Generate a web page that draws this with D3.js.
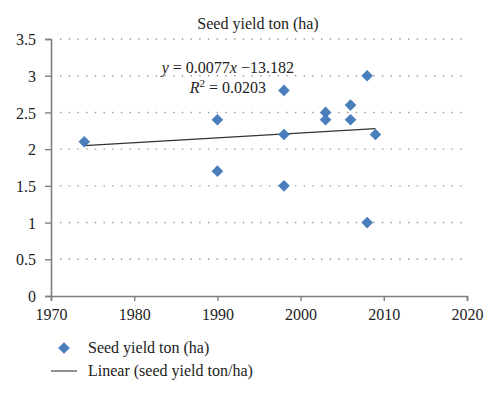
<!DOCTYPE html>
<html>
<head>
<meta charset="utf-8">
<script src="https://cdn.jsdelivr.net/npm/d3@7"></script>
<style>
  body { margin: 0; background: #fff; }
  text { font-family: "Liberation Serif", "DejaVu Serif", serif; fill: #222; }
</style>
</head>
<body>
<svg id="chart"></svg>
<script>
// data
const years  = [1974, 1990, 1990, 1998, 1998, 1998, 2003, 2003, 2006, 2006, 2008, 2008, 2009]
const yields = [2.1,  2.4,  1.7,  2.8,  2.2,  1.5,  2.5,  2.4,  2.6,  2.4,  3.0,  1.0,  2.2]
const xTicks = [1970, 1980, 1990, 2000, 2010, 2020]
const yTicks = [0, 0.5, 1, 1.5, 2, 2.5, 3, 3.5]
const title = "Seed yield ton (ha)"
const eqLine1 = ["y", " = 0.0077", "x", " \u221213.182"]
const eqLine2 = "0.0203"
const legendLabels = ["Seed yield ton (ha)", "Linear (seed yield ton/ha)"]

const svg = d3.select("svg#chart")
              .attr("width", 500)
              .attr("height", 397)

const x = d3.scaleLinear().domain([1970, 2020]).range([51, 467])
const y = d3.scaleLinear().domain([0, 3.5]).range([296, 39])

const axisColor = "#7f7f7f"
const blue = "#4a7ebb"
const fs = 16

//gridlines
svg.append("g")
   .selectAll("line")
   .data(yTicks.filter(d => d > 0))
   .join("line")
   .attr("x1", x(1970) + 9)
   .attr("x2", x(2020))
   .attr("y1", d => y(d))
   .attr("y2", d => y(d))
   .attr("stroke", "#999")
   .attr("stroke-width", 1.4)
   .attr("stroke-dasharray", "1.4,7.3")

//y axis
const yAxis = svg.append("g")
   .attr("transform", `translate(${x(1970)},0)`)
   .call(d3.axisLeft(y).tickValues(yTicks).tickSize(6).tickFormat(d3.format("")))
yAxis.select(".domain").attr("stroke", axisColor).attr("stroke-width", 1.6)
yAxis.selectAll(".tick line").attr("stroke", axisColor).attr("stroke-width", 1.4)
yAxis.selectAll(".tick text")
     .attr("x", -15)
     .attr("dy", "0.35em")
     .attr("font-size", fs)
     .attr("font-family", "Liberation Serif")
     .attr("fill", "#222")

//x axis
const xAxis = svg.append("g")
   .attr("transform", `translate(0,${y(0)})`)
   .call(d3.axisBottom(x).tickValues(xTicks).tickSize(5).tickFormat(d3.format("d")))
xAxis.select(".domain").attr("stroke", axisColor).attr("stroke-width", 1.6)
xAxis.selectAll(".tick line").attr("stroke", axisColor).attr("stroke-width", 1.4)
xAxis.selectAll(".tick text")
     .attr("y", 13)
     .attr("dy", "0.71em")
     .attr("font-size", fs)
     .attr("font-family", "Liberation Serif")
     .attr("fill", "#222")

//trend line (least squares from the points)
const mx = d3.mean(years), my = d3.mean(yields)
const slope = d3.sum(years, (d, i) => (d - mx) * (yields[i] - my)) / d3.sum(years, d => (d - mx) ** 2)
const fit = v => my + slope * (v - mx)
const [x0, x1] = d3.extent(years)
svg.append("line")
   .attr("x1", x(x0))
   .attr("y1", y(fit(x0)))
   .attr("x2", x(x1))
   .attr("y2", y(fit(x1)))
   .attr("stroke", "#333")
   .attr("stroke-width", 1.2)

//points
const diamond = d3.symbol().type(d3.symbolDiamond2).size(86)
svg.append("g")
   .selectAll("path")
   .data(years)
   .join("path")
   .attr("d", diamond)
   .attr("transform", (d, i) => `translate(${x(d)},${y(yields[i])})`)
   .attr("fill", blue)

//title
svg.append("text")
   .attr("x", 258)
   .attr("y", 29)
   .attr("text-anchor", "middle")
   .attr("font-size", fs)
   .text(title)

//equation
const eq = svg.append("text")
   .attr("x", 294)
   .attr("y", 73)
   .attr("text-anchor", "end")
   .attr("font-size", fs)
eqLine1.forEach((s, i) => {
    eq.append("tspan")
      .attr("font-style", i % 2 === 0 ? "italic" : "normal")
      .text(s)
})
const r2 = svg.append("text")
   .attr("x", 266)
   .attr("y", 93)
   .attr("text-anchor", "end")
   .attr("font-size", fs)
r2.append("tspan").attr("font-style", "italic").text("R")
r2.append("tspan").attr("font-size", 11).attr("dy", -6).text("2")
r2.append("tspan").attr("dy", 6).text(" = " + eqLine2)

//legend
svg.append("path")
   .attr("d", diamond)
   .attr("transform", "translate(64,348)")
   .attr("fill", blue)
svg.append("line")
   .attr("x1", 51)
   .attr("x2", 77)
   .attr("y1", 371)
   .attr("y2", 371)
   .attr("stroke", "#555")
   .attr("stroke-width", 1.3)
legendLabels.forEach((s, i) => {
    svg.append("text")
       .attr("x", 88)
       .attr("y", 353 + i * 23)
       .attr("font-size", fs)
       .text(s)
})
</script>
</body>
</html>
